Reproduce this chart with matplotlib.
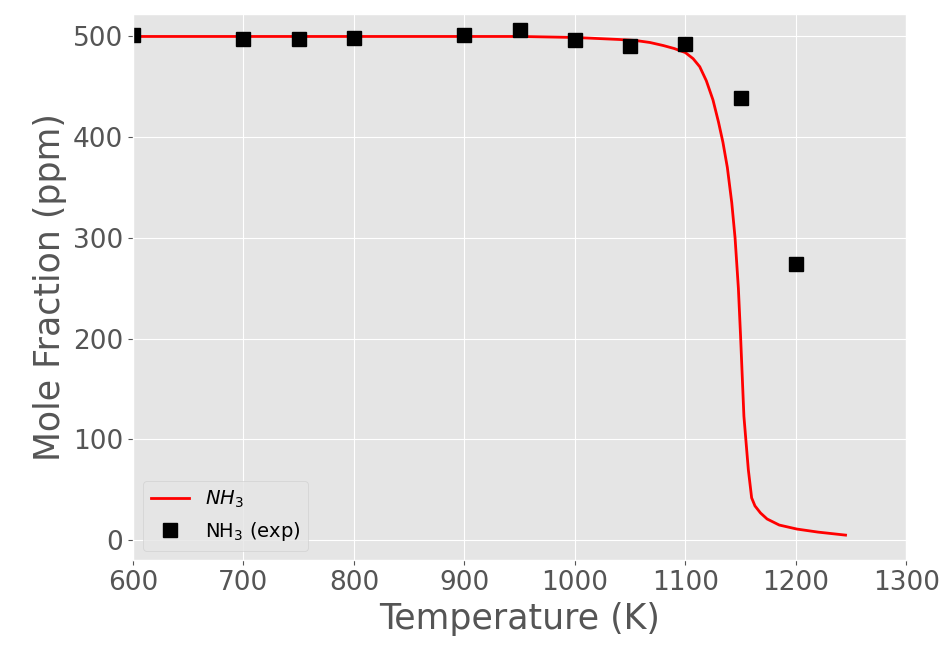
import matplotlib
matplotlib.use("Agg")
import matplotlib.pyplot as plt

# model curve
temp_model = [600, 700, 800, 900, 950, 1000, 1020, 1040, 1055, 1068, 1080, 1090, 1100,
              1107, 1113, 1119, 1125, 1130, 1134, 1138, 1142, 1145, 1148, 1150, 1153,
              1157, 1160, 1163, 1168, 1174, 1185, 1201, 1220, 1245]
nh3_model = [500, 500, 500, 500, 500, 499, 498, 497, 496, 494, 491, 488, 484,
             478, 470, 456, 437, 415, 395, 370, 335, 300, 250, 202, 123,
             70, 42, 34, 27, 21, 15, 11, 8, 5]

# experimental points
temp_exp = [600, 700, 750, 800, 900, 950, 1000, 1050, 1100, 1150, 1200]
nh3_exp = [501, 497, 497, 498, 501, 506, 496, 491, 493, 439, 274]


def plot():
    plt.style.use('ggplot')
    fig, ax = plt.subplots(figsize=(9.5, 6.5), dpi=100)
    fig.subplots_adjust(left=0.14, right=0.954, top=0.978, bottom=0.138)

    ax.plot(temp_model, nh3_model, color='red', linewidth=2, label=r'$NH_3$')
    ax.plot(temp_exp, nh3_exp, 's', color='black', markersize=9.5, label=r'NH$_3$ (exp)')

    ax.set_xlim(600, 1300)
    ax.set_ylim(-20, 522)
    ax.set_xticks(range(600, 1301, 100))
    ax.set_yticks(range(0, 501, 100))
    ax.tick_params(labelsize=19, colors='#555555')
    ax.set_xlabel('Temperature (K)', fontsize=25, color='#555555')
    ax.set_ylabel('Mole Fraction (ppm)', fontsize=25, color='#555555')
    ax.legend(loc='lower left', fontsize=14)
    fig.savefig("out.png")


if __name__ == '__main__':
    plot()
